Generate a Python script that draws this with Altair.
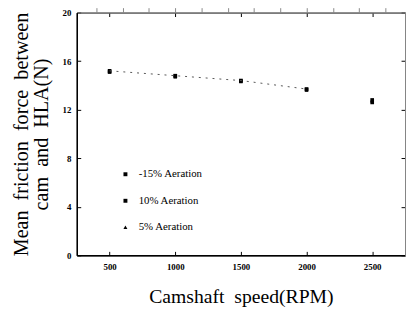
import altair as alt
import pandas as pd

rpm = [500, 1000, 1500, 2000, 2500]
series_names = ["-15% Aeration", "10% Aeration", "5% Aeration"]
force_m15 = [15.2, 14.8, 14.4, 13.7, 12.6]
force_10 = [15.1, 14.75, 14.35, 13.65, 12.8]
force_5 = [15.15, 14.7, 14.3, 13.6, 12.7]
shapes = ["square", "square", "triangle-up"]

x_ticks = [500, 1000, 1500, 2000, 2500]
y_ticks = [0, 4, 8, 12, 16, 20]

rows = []
for name, vals in zip(series_names, [force_m15, force_10, force_5]):
    for r, v in zip(rpm, vals):
        rows.append({"rpm": r, "force": v, "series": name})
df = pd.DataFrame(rows)

SERIF = "Liberation Serif"
GAP = "\u00a0 "
xscale = alt.Scale(domain=[250, 2750], nice=False, zero=False)
yscale = alt.Scale(domain=[0, 20], nice=False)

tick_axis = dict(
    ticks=False, grid=True, gridDash=[4, 1000], gridColor="black",
    gridOpacity=1, gridWidth=1, domainColor="black", domainWidth=1.5,
    labelFont=SERIF, labelFontWeight="bold", labelFontSize=9, labelColor="black",
    titleFont=SERIF, titleFontWeight="normal", titleColor="black", format="d",
)

points = alt.Chart(df).mark_point(filled=True, size=14, color="black", opacity=1).encode(
    x=alt.X("rpm:Q", scale=xscale,
            axis=alt.Axis(values=x_ticks, title="Camshaft" + GAP + "speed(RPM)", titleFontSize=20,
                          labelPadding=7, titlePadding=16, **tick_axis)),
    y=alt.Y("force:Q", scale=yscale,
            axis=alt.Axis(values=y_ticks,
                          title=["Mean" + GAP + "friction" + GAP + "force" + GAP + "between",
                                 "cam" + GAP + "and" + GAP + "HLA(N)"],
                          titleFontSize=20.5, labelPadding=6, titlePadding=11,
                          titleLineHeight=20, **tick_axis)),
    shape=alt.Shape("series:N",
                    scale=alt.Scale(domain=series_names, range=shapes),
                    legend=alt.Legend(title=None, orient="none", legendX=44, legendY=159,
                                      rowPadding=15, labelFont=SERIF, labelFontSize=11,
                                      labelColor="black", symbolSize=16, symbolFillColor="black",
                                      symbolStrokeColor="black", labelOffset=8)),
)

line = alt.Chart(df).transform_filter(
    (alt.datum.series == series_names[0]) & (alt.datum.rpm <= 2000)
).mark_line(color="#555555", strokeWidth=1, strokeDash=[2, 5]).encode(
    x=alt.X("rpm:Q", scale=xscale),
    y=alt.Y("force:Q", scale=yscale),
)

mirror = alt.Chart(df).mark_point(opacity=0).encode(
    x=alt.X("rpm:Q", scale=xscale,
            axis=alt.Axis(orient="top", values=x_ticks, labels=False, title=None, domain=False,
                          ticks=False, grid=True, gridDash=[4, 1000], gridColor="black",
                          gridOpacity=1, gridWidth=1)),
    y=alt.Y("force:Q", scale=yscale,
            axis=alt.Axis(orient="right", values=y_ticks, labels=False, title=None, domain=False,
                          ticks=False, grid=True, gridDash=[4, 1000], gridColor="black",
                          gridOpacity=1, gridWidth=1)),
)

chart = alt.layer(points, line, mirror).resolve_axis(x="independent", y="independent").properties(
    width=334, height=247,
    padding={"left": 70, "top": 2, "right": 1, "bottom": 55},
    autosize=alt.AutoSizeParams(type="none"),
    background="white",
).configure_view(stroke="black", strokeWidth=1)

chart.save("out.html", embed_options={"renderer": "svg", "actions": False})
